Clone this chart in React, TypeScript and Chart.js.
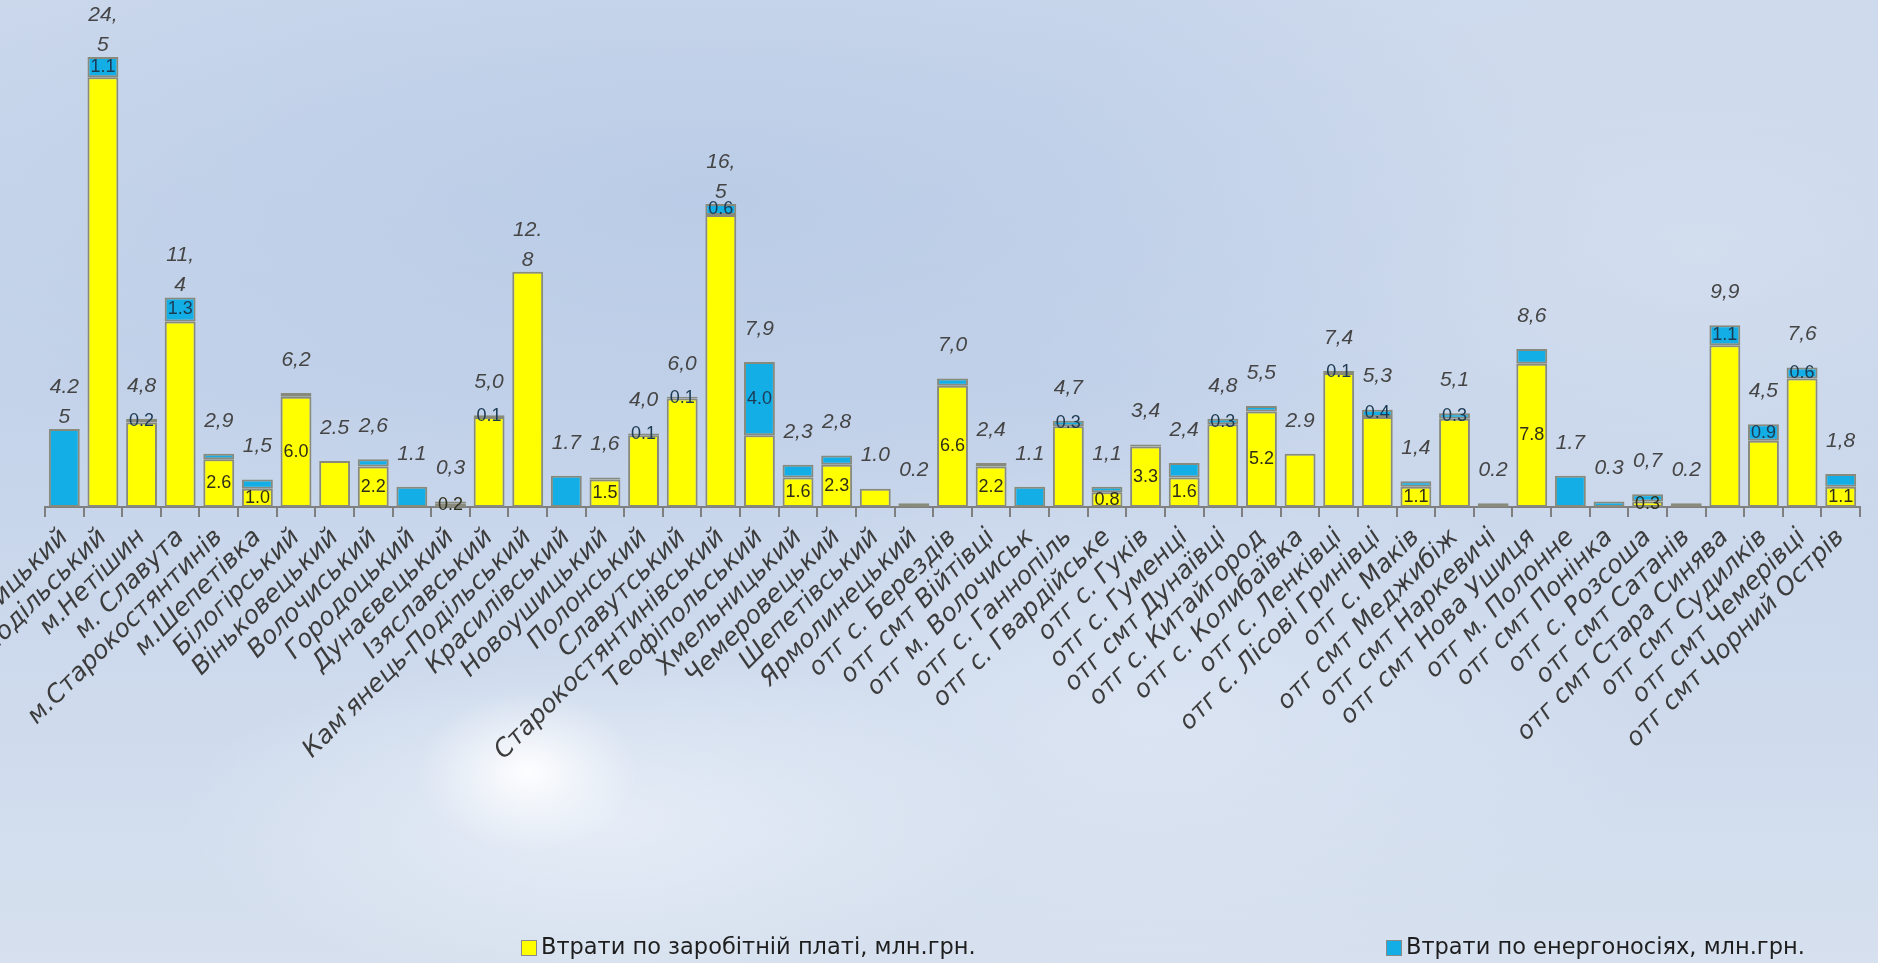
import React, { useEffect, useRef } from "react";
import { Chart, registerables } from "chart.js";

Chart.register(...registerables);

const categories = [
  "м.Хмельницький",
  "м.Кам'янець-Подільський",
  "м.Нетішин",
  "м. Славута",
  "м.Старокостянтинів",
  "м.Шепетівка",
  "Білогірський",
  "Віньковецький",
  "Волочиський",
  "Городоцький",
  "Дунаєвецький",
  "Ізяславський",
  "Кам'янець-Подільський",
  "Красилівський",
  "Новоушицький",
  "Полонський",
  "Славутський",
  "Старокостянтинівський",
  "Теофіпольський",
  "Хмельницький",
  "Чемеровецький",
  "Шепетівський",
  "Ярмолинецький",
  "отг с. Берездів",
  "отг смт Війтівці",
  "отг м. Волочиськ",
  "отг с. Ганнопіль",
  "отг с. Гвардійське",
  "отг с. Гуків",
  "отг с. Гуменці",
  "отг смт Дунаївці",
  "отг с. Китайгород",
  "отг с. Колибаївка",
  "отг с. Ленківці",
  "отг с. Лісові Гринівці",
  "отг с. Маків",
  "отг смт Меджибіж",
  "отг смт Наркевичі",
  "отг смт Нова Ушиця",
  "отг м. Полонне",
  "отг смт Понінка",
  "отг с. Розсоша",
  "отг смт Сатанів",
  "отг смт Стара Синява",
  "отг смт Судилків",
  "отг смт Чемерівці",
  "отг смт Чорний Острів",
];

const wageLosses = [
  0, 23.4, 4.6, 10.1, 2.6, 1.0, 6.0, 2.5, 2.2, 0, 0.2, 4.9, 12.8, 0, 1.5, 3.9,
  5.9, 15.9, 3.9, 1.6, 2.3, 1.0, 0, 6.6, 2.2, 0, 4.4, 0.8, 3.3, 1.6, 4.5, 5.2,
  2.9, 7.3, 4.9, 1.1, 4.8, 0, 7.8, 0, 0, 0.3, 0, 8.8, 3.6, 7.0, 1.1,
];

const energyLosses = [
  4.25, 1.1, 0.2, 1.3, 0.3, 0.5, 0.2, 0, 0.4, 1.1, 0.1, 0.1, 0, 1.7, 0.1, 0.1,
  0.1, 0.6, 4.0, 0.7, 0.5, 0, 0.2, 0.4, 0.2, 1.1, 0.3, 0.3, 0.1, 0.8, 0.3, 0.3,
  0, 0.1, 0.4, 0.3, 0.3, 0.2, 0.8, 1.7, 0.3, 0.4, 0.2, 1.1, 0.9, 0.6, 0.7,
];

const totalLabels = [
  "4.2\n5", "24,\n5", "4,8", "11,\n4", "2,9", "1,5", "6,2", "2.5", "2,6", "1.1",
  "0,3", "5,0", "12.\n8", "1.7", "1,6", "4,0", "6,0", "16,\n5", "7,9", "2,3",
  "2,8", "1.0", "0.2", "7,0", "2,4", "1.1", "4,7", "1,1", "3,4", "2,4", "4,8",
  "5,5", "2.9", "7,4", "5,3", "1,4", "5,1", "0.2", "8,6", "1.7", "0.3", "0,7",
  "0.2", "9,9", "4,5", "7,6", "1,8",
];

// indices (0-based) of bars whose segment value is printed inside the segment
const wageLabelIdx = [4, 5, 6, 8, 10, 14, 19, 20, 23, 24, 27, 28, 29, 31, 35, 38, 41, 46];
const energyLabelIdx = [1, 2, 3, 11, 15, 16, 17, 18, 26, 30, 33, 34, 36, 43, 44, 45];

const seriesNames = [
  "Втрати по заробітній платі, млн.грн.",
  "Втрати по енергоносіях, млн.грн.",
];

const Y_MAX = 27.6;

const YELLOW = "#ffff00";
const BLUE = "#14aee6";
const BAR_BORDER = "#888a7c";
const AXIS = "#7f7f7f";

const valueLabelsPlugin = {
  id: "valueLabels",
  afterDatasetsDraw(chart: any) {
    const ctx = chart.ctx;
    const m0 = chart.getDatasetMeta(0);
    const m1 = chart.getDatasetMeta(1);
    const yScale = chart.scales.y;
    ctx.save();
    ctx.textAlign = "center";
    ctx.textBaseline = "middle";
    ctx.font = '18px "Liberation Sans", Arial, sans-serif';
    wageLabelIdx.forEach((i) => {
      const el = m0.data[i];
      ctx.fillStyle = "#2e2e1a";
      ctx.fillText(wageLosses[i].toFixed(1), el.x, (el.y + el.base) / 2);
    });
    energyLabelIdx.forEach((i) => {
      const el = m1.data[i];
      ctx.fillStyle = "#1c3a52";
      ctx.fillText(energyLosses[i].toFixed(1), el.x, (el.y + el.base) / 2);
    });
    ctx.font = 'italic 21px "Liberation Sans", Arial, sans-serif';
    ctx.fillStyle = "#454545";
    categories.forEach((_, i) => {
      const top = yScale.getPixelForValue(wageLosses[i] + energyLosses[i]);
      const x = m0.data[i].x;
      const lines = totalLabels[i].split("\n");
      if (lines.length === 1) {
        ctx.fillText(lines[0], x, top - 33);
      } else {
        ctx.fillText(lines[0], x, top - 42);
        ctx.fillText(lines[1], x, top - 12);
      }
    });
    ctx.restore();
  },
};

const legendPlugin = {
  id: "customLegend",
  afterDraw(chart: any) {
    const ctx = chart.ctx;
    const items = [
      { x: 521, color: YELLOW, text: chart.data.datasets[0].label },
      { x: 1386, color: BLUE, text: chart.data.datasets[1].label },
    ];
    const cy = 948;
    ctx.save();
    ctx.font = '22.5px "DejaVu Sans", sans-serif';
    ctx.textBaseline = "middle";
    ctx.textAlign = "left";
    items.forEach((it) => {
      ctx.fillStyle = it.color;
      ctx.fillRect(it.x, cy - 8, 16, 16);
      ctx.strokeStyle = "#8a8a8a";
      ctx.lineWidth = 1;
      ctx.strokeRect(it.x + 0.5, cy - 7.5, 15, 15);
      ctx.fillStyle = "#1e1e1e";
      ctx.fillText(it.text, it.x + 20, cy);
    });
    ctx.restore();
  },
};

export default function App() {
  const canvasRef = useRef<HTMLCanvasElement | null>(null);

  useEffect(() => {
    if (!canvasRef.current) return;
    const chart = new Chart(canvasRef.current, {
      type: "bar",
      data: {
        labels: categories,
        datasets: [
          {
            label: seriesNames[0],
            data: wageLosses,
            backgroundColor: YELLOW,
            borderColor: BAR_BORDER,
            borderWidth: 2,
            borderSkipped: false,
            categoryPercentage: 1,
            barPercentage: 0.8,
          },
          {
            label: seriesNames[1],
            data: energyLosses,
            backgroundColor: BLUE,
            borderColor: BAR_BORDER,
            borderWidth: 2,
            borderSkipped: false,
            categoryPercentage: 1,
            barPercentage: 0.8,
          },
        ],
      },
      options: {
        responsive: false,
        animation: false,
        devicePixelRatio: 1,
        layout: { padding: { left: 45, right: 18, top: 0, bottom: 0 } },
        plugins: {
          legend: { display: false },
          tooltip: { enabled: false },
          title: { display: false },
        },
        scales: {
          x: {
            stacked: true,
            offset: true,
            grid: {
              display: true,
              drawOnChartArea: false,
              drawTicks: true,
              tickLength: 10,
              color: AXIS,
              lineWidth: 2,
              offset: true,
            },
            border: { display: true, color: AXIS, width: 2 },
            ticks: {
              autoSkip: false,
              minRotation: 45,
              maxRotation: 45,
              padding: 6,
              color: "#3c3c3c",
              font: { family: '"DejaVu Sans", sans-serif', size: 25, style: "italic" },
            },
            afterFit: (s: any) => {
              s.paddingLeft = 0;
              s.paddingRight = 0;
              s.height = 456;
            },
          },
          y: { stacked: true, display: false, min: 0, max: Y_MAX },
        },
      },
      plugins: [valueLabelsPlugin, legendPlugin],
    } as any);
    return () => chart.destroy();
  }, []);

  const bg = [
    "radial-gradient(ellipse 110px 80px at 528px 772px, rgba(255,255,255,0.95) 0%, rgba(255,255,255,0.45) 50%, rgba(255,255,255,0) 100%)",
    "radial-gradient(ellipse 420px 170px at 600px 820px, rgba(236,242,250,0.75) 0%, rgba(236,242,250,0) 100%)",
    "radial-gradient(ellipse 520px 260px at 1150px 720px, rgba(226,234,246,0.6) 0%, rgba(226,234,246,0) 100%)",
    "radial-gradient(ellipse 900px 330px at 700px 200px, rgba(178,198,228,0.6) 0%, rgba(178,198,228,0) 100%)",
    "radial-gradient(ellipse 700px 400px at 1700px 250px, rgba(218,227,240,0.6) 0%, rgba(218,227,240,0) 100%)",
    "linear-gradient(180deg, #cbd8ec 0%, #c4d3ea 40%, #cfdbed 75%, #d6e0ee 100%)",
  ].join(", ");

  return (
    <div
      style={{
        position: "fixed",
        left: 0,
        top: 0,
        width: 1878,
        height: 963,
        overflow: "hidden",
        background: bg,
      }}
    >
      <canvas ref={canvasRef} width={1878} height={963} style={{ display: "block" }} />
    </div>
  );
}
